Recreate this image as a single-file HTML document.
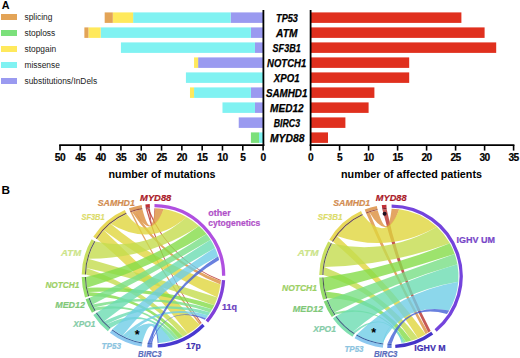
<!DOCTYPE html>
<html><head><meta charset="utf-8"><style>
html,body{margin:0;padding:0;background:#fff;}
svg{display:block;}
text{font-family:"Liberation Sans",sans-serif;}
.tk{font-size:10.2px;letter-spacing:-0.5px;stroke:#000;stroke-width:0.2px;font-weight:bold;text-anchor:middle;fill:#000;}
.gn{font-size:10.6px;font-weight:bold;font-style:italic;fill:#000;stroke:#000;stroke-width:0.25px;}
.axl{font-size:10.75px;font-weight:bold;text-anchor:middle;fill:#000;}
.lg{font-size:8.4px;fill:#222;}
.pl{font-size:12px;font-weight:bold;fill:#000;}
.cl{font-size:9.3px;font-weight:bold;font-style:italic;stroke-width:0.2px;}
.cb{font-size:9.6px;font-weight:bold;stroke-width:0.2px;}
.ast{font-size:12.5px;font-weight:bold;fill:#000;text-anchor:middle;}
</style></head>
<body><svg width="520" height="358" viewBox="0 0 520 358">
<rect x="230.60" y="12.40" width="32.50" height="10.5" fill="#9A9AF0"/>
<rect x="133.12" y="12.40" width="97.49" height="10.5" fill="#80F2F2"/>
<rect x="112.81" y="12.40" width="20.31" height="10.5" fill="#FFE95C"/>
<rect x="104.68" y="12.40" width="8.12" height="10.5" fill="#E3A457"/>
<rect x="250.91" y="27.40" width="12.19" height="10.5" fill="#9A9AF0"/>
<rect x="100.62" y="27.40" width="150.29" height="10.5" fill="#80F2F2"/>
<rect x="88.43" y="27.40" width="12.19" height="10.5" fill="#FFE95C"/>
<rect x="84.37" y="27.40" width="4.06" height="10.5" fill="#E3A457"/>
<rect x="254.98" y="42.40" width="8.12" height="10.5" fill="#9A9AF0"/>
<rect x="120.93" y="42.40" width="134.05" height="10.5" fill="#80F2F2"/>
<rect x="198.11" y="57.40" width="64.99" height="10.5" fill="#9A9AF0"/>
<rect x="194.05" y="57.40" width="4.06" height="10.5" fill="#FFE95C"/>
<rect x="185.92" y="72.40" width="77.18" height="10.5" fill="#80F2F2"/>
<rect x="250.91" y="87.40" width="12.19" height="10.5" fill="#9A9AF0"/>
<rect x="194.05" y="87.40" width="56.87" height="10.5" fill="#80F2F2"/>
<rect x="189.98" y="87.40" width="4.06" height="10.5" fill="#FFE95C"/>
<rect x="254.98" y="102.40" width="8.12" height="10.5" fill="#9A9AF0"/>
<rect x="222.48" y="102.40" width="32.50" height="10.5" fill="#80F2F2"/>
<rect x="238.73" y="117.40" width="24.37" height="10.5" fill="#9A9AF0"/>
<rect x="259.04" y="132.40" width="4.06" height="10.5" fill="#80F2F2"/>
<rect x="250.91" y="132.40" width="8.12" height="10.5" fill="#7BE07B"/>
<rect x="310.60" y="12.40" width="150.80" height="10.5" fill="#E0301E"/>
<rect x="310.60" y="27.40" width="174.00" height="10.5" fill="#E0301E"/>
<rect x="310.60" y="42.40" width="185.60" height="10.5" fill="#E0301E"/>
<rect x="310.60" y="57.40" width="98.60" height="10.5" fill="#E0301E"/>
<rect x="310.60" y="72.40" width="98.60" height="10.5" fill="#E0301E"/>
<rect x="310.60" y="87.40" width="63.80" height="10.5" fill="#E0301E"/>
<rect x="310.60" y="102.40" width="58.00" height="10.5" fill="#E0301E"/>
<rect x="310.60" y="117.40" width="34.80" height="10.5" fill="#E0301E"/>
<rect x="310.60" y="132.40" width="17.40" height="10.5" fill="#E0301E"/>
<line x1="263.40" y1="10" x2="263.40" y2="146.0" stroke="#000" stroke-width="1.8"/>
<line x1="59.20" y1="145.1" x2="264.30" y2="145.1" stroke="#000" stroke-width="1.8"/>
<line x1="263.10" y1="145.1" x2="263.10" y2="150.6" stroke="#000" stroke-width="1.6"/>
<text x="263.10" y="160.6" class="tk">0</text>
<line x1="242.79" y1="145.1" x2="242.79" y2="150.6" stroke="#000" stroke-width="1.6"/>
<text x="242.79" y="160.6" class="tk">5</text>
<line x1="222.48" y1="145.1" x2="222.48" y2="150.6" stroke="#000" stroke-width="1.6"/>
<text x="222.48" y="160.6" class="tk">10</text>
<line x1="202.17" y1="145.1" x2="202.17" y2="150.6" stroke="#000" stroke-width="1.6"/>
<text x="202.17" y="160.6" class="tk">15</text>
<line x1="181.86" y1="145.1" x2="181.86" y2="150.6" stroke="#000" stroke-width="1.6"/>
<text x="181.86" y="160.6" class="tk">20</text>
<line x1="161.55" y1="145.1" x2="161.55" y2="150.6" stroke="#000" stroke-width="1.6"/>
<text x="161.55" y="160.6" class="tk">25</text>
<line x1="141.24" y1="145.1" x2="141.24" y2="150.6" stroke="#000" stroke-width="1.6"/>
<text x="141.24" y="160.6" class="tk">30</text>
<line x1="120.93" y1="145.1" x2="120.93" y2="150.6" stroke="#000" stroke-width="1.6"/>
<text x="120.93" y="160.6" class="tk">35</text>
<line x1="100.62" y1="145.1" x2="100.62" y2="150.6" stroke="#000" stroke-width="1.6"/>
<text x="100.62" y="160.6" class="tk">40</text>
<line x1="80.31" y1="145.1" x2="80.31" y2="150.6" stroke="#000" stroke-width="1.6"/>
<text x="80.31" y="160.6" class="tk">45</text>
<line x1="60.00" y1="145.1" x2="60.00" y2="150.6" stroke="#000" stroke-width="1.6"/>
<text x="60.00" y="160.6" class="tk">50</text>
<line x1="310.60" y1="10" x2="310.60" y2="146.0" stroke="#000" stroke-width="1.8"/>
<line x1="309.70" y1="145.1" x2="514.40" y2="145.1" stroke="#000" stroke-width="1.8"/>
<line x1="310.60" y1="145.1" x2="310.60" y2="150.6" stroke="#000" stroke-width="1.6"/>
<text x="310.60" y="160.6" class="tk">0</text>
<line x1="339.60" y1="145.1" x2="339.60" y2="150.6" stroke="#000" stroke-width="1.6"/>
<text x="339.60" y="160.6" class="tk">5</text>
<line x1="368.60" y1="145.1" x2="368.60" y2="150.6" stroke="#000" stroke-width="1.6"/>
<text x="368.60" y="160.6" class="tk">10</text>
<line x1="397.60" y1="145.1" x2="397.60" y2="150.6" stroke="#000" stroke-width="1.6"/>
<text x="397.60" y="160.6" class="tk">15</text>
<line x1="426.60" y1="145.1" x2="426.60" y2="150.6" stroke="#000" stroke-width="1.6"/>
<text x="426.60" y="160.6" class="tk">20</text>
<line x1="455.60" y1="145.1" x2="455.60" y2="150.6" stroke="#000" stroke-width="1.6"/>
<text x="455.60" y="160.6" class="tk">25</text>
<line x1="484.60" y1="145.1" x2="484.60" y2="150.6" stroke="#000" stroke-width="1.6"/>
<text x="484.60" y="160.6" class="tk">30</text>
<line x1="513.60" y1="145.1" x2="513.60" y2="150.6" stroke="#000" stroke-width="1.6"/>
<text x="513.60" y="160.6" class="tk">35</text>
<text x="276.10" y="22.30" class="gn" textLength="21.80" lengthAdjust="spacingAndGlyphs">TP53</text>
<text x="276.10" y="37.30" class="gn" textLength="21.30" lengthAdjust="spacingAndGlyphs">ATM</text>
<text x="272.60" y="52.30" class="gn" textLength="28.10" lengthAdjust="spacingAndGlyphs">SF3B1</text>
<text x="267.10" y="67.30" class="gn" textLength="39.10" lengthAdjust="spacingAndGlyphs">NOTCH1</text>
<text x="273.80" y="82.30" class="gn" textLength="25.70" lengthAdjust="spacingAndGlyphs">XPO1</text>
<text x="265.90" y="97.30" class="gn" textLength="41.50" lengthAdjust="spacingAndGlyphs">SAMHD1</text>
<text x="270.10" y="112.30" class="gn" textLength="33.60" lengthAdjust="spacingAndGlyphs">MED12</text>
<text x="273.80" y="127.30" class="gn" textLength="26.20" lengthAdjust="spacingAndGlyphs">BIRC3</text>
<text x="270.00" y="142.30" class="gn" textLength="34.50" lengthAdjust="spacingAndGlyphs">MYD88</text>
<text x="162" y="177.5" class="axl">number of mutations</text>
<text x="411.5" y="177.5" class="axl">number of affected patients</text>
<rect x="1" y="14" width="16" height="6" fill="#E3A457"/>
<text x="24.5" y="20" class="lg">splicing</text>
<rect x="1" y="30" width="16" height="6" fill="#7BE07B"/>
<text x="24.5" y="36" class="lg">stoploss</text>
<rect x="1" y="46" width="16" height="6" fill="#FFE95C"/>
<text x="24.5" y="52" class="lg">stopgain</text>
<rect x="1" y="62" width="16" height="6" fill="#80F2F2"/>
<text x="24.5" y="68" class="lg">missense</text>
<rect x="1" y="78" width="16" height="6" fill="#9A9AF0"/>
<text x="24.5" y="84" class="lg">substitutions/InDels</text>
<text x="1.7" y="8.9" class="pl" style="font-size:10.8px">A</text>
<text x="1.6" y="193.9" class="pl" style="font-size:11.8px">B</text>
<g><path d="M201.64,323.11 A67.5,67.5 0 0 1 201.00,323.76 Q163.46,271.02 145.86,208.73 A67.5,67.5 0 0 1 147.17,208.60 Q163.95,270.83 201.64,323.11 Z" fill="#B8302A" fill-opacity="0.8"/><path d="M220.87,279.92 A67.5,67.5 0 0 1 220.80,281.00 Q168.74,260.30 147.17,208.60 A67.5,67.5 0 0 1 148.65,208.47 Q169.13,260.00 220.87,279.92 Z" fill="#B8302A" fill-opacity="0.8"/><path d="M154.44,208.31 A67.5,67.5 0 0 1 155.32,208.32 Q152.74,242.10 148.65,208.47 A67.5,67.5 0 0 1 149.97,208.39 Q152.85,242.07 154.44,208.31 Z" fill="#B8302A" fill-opacity="0.8"/><path d="M201.00,323.76 A67.5,67.5 0 0 1 199.77,324.95 Q159.29,272.23 130.41,212.37 A67.5,67.5 0 0 1 131.85,211.87 Q159.96,271.81 201.00,323.76 Z" fill="#DC8F3D" fill-opacity="0.8"/><path d="M220.80,281.00 A67.5,67.5 0 0 1 220.43,284.57 Q164.82,262.01 131.85,211.87 A67.5,67.5 0 0 1 134.75,210.96 Q165.64,260.89 220.80,281.00 Z" fill="#DC8F3D" fill-opacity="0.8"/><path d="M155.32,208.32 A67.5,67.5 0 0 1 163.76,209.08 Q151.38,242.91 134.75,210.96 A67.5,67.5 0 0 1 142.36,209.23 Q151.17,242.29 155.32,208.32 Z" fill="#DC8F3D" fill-opacity="0.8"/><path d="M199.77,324.95 A67.5,67.5 0 0 1 187.92,333.86 Q147.95,281.13 96.89,239.04 A67.5,67.5 0 0 1 103.71,230.23 Q152.62,276.69 199.77,324.95 Z" fill="#E0D63D" fill-opacity="0.8"/><path d="M220.43,284.57 A67.5,67.5 0 0 1 217.46,297.38 Q157.04,269.80 103.71,230.23 A67.5,67.5 0 0 1 110.54,223.73 Q159.49,264.98 220.43,284.57 Z" fill="#E0D63D" fill-opacity="0.8"/><path d="M163.76,209.08 A67.5,67.5 0 0 1 186.54,216.94 Q151.02,248.07 110.54,223.73 A67.5,67.5 0 0 1 126.58,213.90 Q149.34,243.65 163.76,209.08 Z" fill="#E0D63D" fill-opacity="0.8"/><path d="M187.92,333.86 A67.5,67.5 0 0 1 182.89,336.57 Q143.97,290.70 86.01,274.62 A67.5,67.5 0 0 1 86.46,267.96 Q145.34,288.36 187.92,333.86 Z" fill="#C4DC4E" fill-opacity="0.8"/><path d="M217.46,297.38 A67.5,67.5 0 0 1 214.29,305.14 Q151.94,281.17 86.46,267.96 A67.5,67.5 0 0 1 88.18,258.77 Q153.16,276.94 217.46,297.38 Z" fill="#C4DC4E" fill-opacity="0.8"/><path d="M186.54,216.94 A67.5,67.5 0 0 1 199.01,225.94 Q148.55,259.08 88.18,258.77 A67.5,67.5 0 0 1 95.34,241.54 Q147.22,252.52 186.54,216.94 Z" fill="#C4DC4E" fill-opacity="0.8"/><path d="M182.89,336.57 A67.5,67.5 0 0 1 178.71,338.42 Q143.71,296.53 89.12,296.10 A67.5,67.5 0 0 1 87.96,291.94 Q144.46,295.03 182.89,336.57 Z" fill="#84DC48" fill-opacity="0.8"/><path d="M214.29,305.14 A67.5,67.5 0 0 1 212.06,309.37 Q151.75,288.23 87.96,291.94 A67.5,67.5 0 0 1 87.06,287.71 Q152.09,286.11 214.29,305.14 Z" fill="#84DC48" fill-opacity="0.8"/><path d="M199.01,225.94 A67.5,67.5 0 0 1 206.50,234.00 Q150.14,268.33 87.06,287.71 A67.5,67.5 0 0 1 86.01,276.98 Q148.00,263.63 199.01,225.94 Z" fill="#84DC48" fill-opacity="0.8"/><path d="M178.71,338.42 A67.5,67.5 0 0 1 175.50,339.61 Q144.53,300.45 95.64,310.57 A67.5,67.5 0 0 1 93.97,307.61 Q144.92,299.41 178.71,338.42 Z" fill="#78DF84" fill-opacity="0.8"/><path d="M212.06,309.37 A67.5,67.5 0 0 1 210.19,312.44 Q152.79,292.91 93.97,307.61 A67.5,67.5 0 0 1 92.44,304.58 Q152.88,291.39 212.06,309.37 Z" fill="#78DF84" fill-opacity="0.8"/><path d="M206.50,234.00 A67.5,67.5 0 0 1 210.62,239.84 Q152.52,274.01 92.44,304.58 A67.5,67.5 0 0 1 89.68,297.78 Q150.79,270.84 206.50,234.00 Z" fill="#78DF84" fill-opacity="0.8"/><path d="M175.50,339.61 A67.5,67.5 0 0 1 171.13,340.96 Q147.17,305.11 110.56,327.88 A67.5,67.5 0 0 1 106.60,324.34 Q147.27,303.89 175.50,339.61 Z" fill="#6CDCB2" fill-opacity="0.8"/><path d="M210.19,312.44 A67.5,67.5 0 0 1 208.16,315.40 Q155.44,297.84 106.60,324.34 A67.5,67.5 0 0 1 103.81,321.49 Q155.25,296.38 210.19,312.44 Z" fill="#6CDCB2" fill-opacity="0.8"/><path d="M210.62,239.84 A67.5,67.5 0 0 1 215.05,248.08 Q156.46,280.29 103.81,321.49 A67.5,67.5 0 0 1 96.89,312.56 Q153.63,276.00 210.62,239.84 Z" fill="#6CDCB2" fill-opacity="0.8"/><path d="M171.13,340.96 A67.5,67.5 0 0 1 158.76,343.09 Q152.03,309.27 142.36,342.37 A67.5,67.5 0 0 1 126.58,337.70 Q151.18,307.56 171.13,340.96 Z" fill="#6FCDE6" fill-opacity="0.8"/><path d="M208.16,315.40 A67.5,67.5 0 0 1 205.98,318.26 Q159.89,301.89 126.58,337.70 A67.5,67.5 0 0 1 122.52,335.77 Q159.42,300.69 208.16,315.40 Z" fill="#6FCDE6" fill-opacity="0.8"/><path d="M215.05,248.08 A67.5,67.5 0 0 1 218.13,256.32 Q161.91,285.92 122.52,335.77 A67.5,67.5 0 0 1 112.41,329.35 Q158.61,282.26 215.05,248.08 Z" fill="#6FCDE6" fill-opacity="0.8"/><path d="M158.76,343.09 A67.5,67.5 0 0 1 157.62,343.17 Q154.24,309.52 152.32,343.29 A67.5,67.5 0 0 1 151.54,343.27 Q154.32,309.49 158.76,343.09 Z" fill="#4360D6" fill-opacity="0.8"/><path d="M205.98,318.26 A67.5,67.5 0 0 1 204.83,319.64 Q165.84,303.63 151.54,343.27 A67.5,67.5 0 0 1 150.36,343.23 Q165.83,303.27 205.98,318.26 Z" fill="#4360D6" fill-opacity="0.8"/><path d="M218.13,256.32 A67.5,67.5 0 0 1 219.13,260.04 Q169.12,288.72 150.36,343.23 A67.5,67.5 0 0 1 147.62,343.04 Q168.19,287.74 218.13,256.32 Z" fill="#4360D6" fill-opacity="0.8"/><path d="M154.48,205.66 A70.15,70.15 0 0 1 223.65,275.80" fill="none" stroke="#B050E0" stroke-width="3.3"/><path d="M223.52,280.08 A70.15,70.15 0 0 1 206.84,321.36" fill="none" stroke="#8040D8" stroke-width="3.3"/><path d="M203.53,324.97 A70.15,70.15 0 0 1 157.78,345.82" fill="none" stroke="#4838D0" stroke-width="3.3"/><path d="M152.27,345.99 A70.20,70.20 0 0 1 147.38,345.73" fill="none" stroke="#6482E0" stroke-width="3.2"/><path d="M152.31,343.89 A68.10,68.10 0 0 1 147.56,343.64" fill="none" stroke="#3050B0" stroke-width="1.1"/><path d="M141.91,345.04 A70.20,70.20 0 0 1 110.76,331.49" fill="none" stroke="#8CC8F0" stroke-width="3.2"/><path d="M142.26,342.97 A68.10,68.10 0 0 1 112.04,329.83" fill="none" stroke="#3060A0" stroke-width="1.1"/><path d="M108.85,329.97 A70.20,70.20 0 0 1 94.63,314.03" fill="none" stroke="#80E0B0" stroke-width="3.2"/><path d="M110.18,328.35 A68.10,68.10 0 0 1 96.39,312.89" fill="none" stroke="#3A6A80" stroke-width="1.1"/><path d="M93.33,311.96 A70.20,70.20 0 0 1 87.12,298.65" fill="none" stroke="#80D878" stroke-width="3.2"/><path d="M95.13,310.87 A68.10,68.10 0 0 1 89.11,297.97" fill="none" stroke="#3A6A68" stroke-width="1.1"/><path d="M86.55,296.91 A70.20,70.20 0 0 1 83.31,277.03" fill="none" stroke="#98E068" stroke-width="3.2"/><path d="M88.55,296.28 A68.10,68.10 0 0 1 85.41,276.99" fill="none" stroke="#4A6050" stroke-width="1.1"/><path d="M83.31,274.57 A70.20,70.20 0 0 1 93.01,240.17" fill="none" stroke="#C8E060" stroke-width="3.2"/><path d="M85.41,274.61 A68.10,68.10 0 0 1 94.82,241.24" fill="none" stroke="#5A5858" stroke-width="1.1"/><path d="M94.63,237.57 A70.20,70.20 0 0 1 125.51,211.42" fill="none" stroke="#E8D858" stroke-width="3.2"/><path d="M96.39,238.71 A68.10,68.10 0 0 1 126.35,213.35" fill="none" stroke="#6A4A48" stroke-width="1.1"/><path d="M129.49,209.83 A70.20,70.20 0 0 1 141.91,206.56" fill="none" stroke="#E0A060" stroke-width="3.2"/><path d="M130.21,211.81 A68.10,68.10 0 0 1 142.26,208.63" fill="none" stroke="#A05040" stroke-width="1.1"/><path d="M145.55,206.05 A70.20,70.20 0 0 1 149.83,205.70" fill="none" stroke="#C03038" stroke-width="3.2"/><path d="M145.79,208.14 A68.10,68.10 0 0 1 149.94,207.79" fill="none" stroke="#802030" stroke-width="1.1"/></g>
<g><path d="M430.68,330.91 A67.5,67.5 0 0 1 428.22,332.61 Q398.13,273.64 382.31,209.36 A67.5,67.5 0 0 1 386.63,208.94 Q399.83,273.11 430.68,330.91 Z" fill="#B8302A" fill-opacity="0.8"/><path d="M391.59,208.80 A67.5,67.5 0 0 1 391.60,208.80 Q390.06,242.59 386.63,208.94 A67.5,67.5 0 0 1 386.64,208.94 Q390.06,242.59 391.59,208.80 Z" fill="#B8302A" fill-opacity="0.8"/><path d="M428.22,332.61 A67.5,67.5 0 0 1 425.70,334.20 Q393.49,275.07 366.26,213.50 A67.5,67.5 0 0 1 369.45,212.33 Q394.92,274.38 428.22,332.61 Z" fill="#DC8F3D" fill-opacity="0.8"/><path d="M391.60,208.80 A67.5,67.5 0 0 1 399.20,209.30 Q387.66,243.56 369.45,212.33 A67.5,67.5 0 0 1 377.66,210.13 Q387.81,242.88 391.60,208.80 Z" fill="#DC8F3D" fill-opacity="0.8"/><path d="M425.70,334.20 A67.5,67.5 0 0 1 418.05,338.14 Q383.25,283.15 332.96,241.84 A67.5,67.5 0 0 1 336.86,235.99 Q386.14,280.70 425.70,334.20 Z" fill="#E0D63D" fill-opacity="0.8"/><path d="M399.20,209.30 A67.5,67.5 0 0 1 436.86,226.77 Q388.93,253.84 336.86,235.99 A67.5,67.5 0 0 1 362.79,214.98 Q386.00,244.22 399.20,209.30 Z" fill="#E0D63D" fill-opacity="0.8"/><path d="M418.05,338.14 A67.5,67.5 0 0 1 411.61,340.58 Q379.28,292.07 323.51,275.12 A67.5,67.5 0 0 1 324.16,266.91 Q381.05,289.41 418.05,338.14 Z" fill="#C4DC4E" fill-opacity="0.8"/><path d="M436.86,226.77 A67.5,67.5 0 0 1 449.87,243.28 Q389.01,265.70 324.16,266.91 A67.5,67.5 0 0 1 331.96,243.58 Q387.71,255.74 436.86,226.77 Z" fill="#C4DC4E" fill-opacity="0.8"/><path d="M411.61,340.58 A67.5,67.5 0 0 1 406.08,342.09 Q378.81,298.24 327.18,298.28 A67.5,67.5 0 0 1 325.23,291.48 Q379.71,296.17 411.61,340.58 Z" fill="#84DC48" fill-opacity="0.8"/><path d="M449.87,243.28 A67.5,67.5 0 0 1 454.69,253.95 Q390.48,274.51 325.23,291.48 A67.5,67.5 0 0 1 323.51,277.48 Q388.85,268.34 449.87,243.28 Z" fill="#84DC48" fill-opacity="0.8"/><path d="M406.08,342.09 A67.5,67.5 0 0 1 404.39,342.46 Q380.44,302.40 335.37,314.53 A67.5,67.5 0 0 1 334.07,312.57 Q380.54,301.82 406.08,342.09 Z" fill="#78DF84" fill-opacity="0.8"/><path d="M454.69,253.95 A67.5,67.5 0 0 1 457.40,264.14 Q393.37,282.33 334.07,312.57 A67.5,67.5 0 0 1 327.77,299.94 Q391.12,276.62 454.69,253.95 Z" fill="#78DF84" fill-opacity="0.8"/><path d="M404.39,342.46 A67.5,67.5 0 0 1 402.70,342.78 Q384.86,307.15 354.73,333.23 A67.5,67.5 0 0 1 352.81,331.96 Q384.80,306.75 404.39,342.46 Z" fill="#6CDCB2" fill-opacity="0.8"/><path d="M457.40,264.14 A67.5,67.5 0 0 1 458.29,281.65 Q398.27,291.55 352.81,331.96 A67.5,67.5 0 0 1 336.39,315.98 Q393.95,283.18 457.40,264.14 Z" fill="#6CDCB2" fill-opacity="0.8"/><path d="M402.70,342.78 A67.5,67.5 0 0 1 401.57,342.97 Q391.73,309.73 383.36,343.37 A67.5,67.5 0 0 1 382.32,343.24 Q391.76,309.65 402.70,342.78 Z" fill="#6FCDE6" fill-opacity="0.8"/><path d="M458.29,281.65 A67.5,67.5 0 0 1 449.21,310.48 Q403.38,301.58 382.32,343.24 A67.5,67.5 0 0 1 356.74,334.46 Q399.26,292.18 458.29,281.65 Z" fill="#6FCDE6" fill-opacity="0.8"/><path d="M401.57,342.97 A67.5,67.5 0 0 1 401.56,342.97 Q393.79,309.84 391.59,343.80 A67.5,67.5 0 0 1 391.58,343.80 Q393.79,309.84 401.57,342.97 Z" fill="#4360D6" fill-opacity="0.8"/><path d="M449.21,310.48 A67.5,67.5 0 0 1 446.96,314.05 Q405.13,302.61 391.58,343.80 A67.5,67.5 0 0 1 387.47,343.71 Q404.67,301.70 449.21,310.48 Z" fill="#4360D6" fill-opacity="0.8"/><path d="M391.61,206.15 A70.15,70.15 0 0 1 435.62,330.43" fill="none" stroke="#7444DC" stroke-width="3.3"/><path d="M432.23,333.05 A70.15,70.15 0 0 1 395.28,346.32" fill="none" stroke="#4434C8" stroke-width="3.3"/><path d="M391.61,346.50 A70.20,70.20 0 0 1 387.33,346.40" fill="none" stroke="#6482E0" stroke-width="3.2"/><path d="M391.59,344.40 A68.10,68.10 0 0 1 387.44,344.31" fill="none" stroke="#3050B0" stroke-width="1.1"/><path d="M383.05,346.05 A70.20,70.20 0 0 1 355.37,336.79" fill="none" stroke="#8CC8F0" stroke-width="3.2"/><path d="M383.29,343.96 A68.10,68.10 0 0 1 356.44,334.98" fill="none" stroke="#3060A0" stroke-width="1.1"/><path d="M353.28,335.51 A70.20,70.20 0 0 1 334.21,317.56" fill="none" stroke="#80E0B0" stroke-width="3.2"/><path d="M354.41,333.73 A68.10,68.10 0 0 1 335.91,316.33" fill="none" stroke="#3A6A80" stroke-width="1.1"/><path d="M333.15,316.06 A70.20,70.20 0 0 1 325.25,300.88" fill="none" stroke="#80D878" stroke-width="3.2"/><path d="M334.88,314.87 A68.10,68.10 0 0 1 327.21,300.15" fill="none" stroke="#3A6A68" stroke-width="1.1"/><path d="M324.62,299.15 A70.20,70.20 0 0 1 320.81,277.53" fill="none" stroke="#98E068" stroke-width="3.2"/><path d="M326.61,298.47 A68.10,68.10 0 0 1 322.91,277.49" fill="none" stroke="#4A6050" stroke-width="1.1"/><path d="M320.81,275.07 A70.20,70.20 0 0 1 329.60,242.27" fill="none" stroke="#C8E060" stroke-width="3.2"/><path d="M322.91,275.11 A68.10,68.10 0 0 1 331.44,243.28" fill="none" stroke="#5A5858" stroke-width="1.1"/><path d="M330.64,240.46 A70.20,70.20 0 0 1 361.67,212.52" fill="none" stroke="#E8D858" stroke-width="3.2"/><path d="M332.44,241.53 A68.10,68.10 0 0 1 362.54,214.43" fill="none" stroke="#6A4A48" stroke-width="1.1"/><path d="M365.27,210.98 A70.20,70.20 0 0 1 377.12,207.48" fill="none" stroke="#E0A060" stroke-width="3.2"/><path d="M366.04,212.94 A68.10,68.10 0 0 1 377.54,209.54" fill="none" stroke="#A05040" stroke-width="1.1"/><path d="M381.96,206.68 A70.20,70.20 0 0 1 386.47,206.25" fill="none" stroke="#C03038" stroke-width="3.2"/><path d="M382.23,208.77 A68.10,68.10 0 0 1 386.61,208.34" fill="none" stroke="#802030" stroke-width="1.1"/></g>
<text x="97.70" y="205.70" class="cl" fill="#D28C50" stroke="#D28C50" textLength="37.20" lengthAdjust="spacingAndGlyphs">SAMHD1</text>
<text x="140.10" y="200.80" class="cl" fill="#AA1928" stroke="#AA1928" textLength="31.20" lengthAdjust="spacingAndGlyphs">MYD88</text>
<text x="81.50" y="219.70" class="cl" fill="#DCDC6A" stroke="#DCDC6A" textLength="23.10" lengthAdjust="spacingAndGlyphs">SF3B1</text>
<text x="61.10" y="256.10" class="cl" fill="#CCE48A" stroke="#CCE48A" textLength="20.00" lengthAdjust="spacingAndGlyphs">ATM</text>
<text x="45.40" y="287.70" class="cl" fill="#9CD064" stroke="#9CD064" textLength="33.90" lengthAdjust="spacingAndGlyphs">NOTCH1</text>
<text x="55.20" y="308.10" class="cl" fill="#80C878" stroke="#80C878" textLength="29.80" lengthAdjust="spacingAndGlyphs">MED12</text>
<text x="73.20" y="327.00" class="cl" fill="#84CCA8" stroke="#84CCA8" textLength="22.10" lengthAdjust="spacingAndGlyphs">XPO1</text>
<text x="101.50" y="348.70" class="cl" fill="#8CC4E0" stroke="#8CC4E0" textLength="19.60" lengthAdjust="spacingAndGlyphs">TP53</text>
<text x="138.10" y="356.50" class="cl" fill="#5A6EBE" stroke="#5A6EBE" textLength="23.40" lengthAdjust="spacingAndGlyphs">BIRC3</text>
<text x="208.30" y="215.90" class="cb" fill="#B050C8" stroke="#B050C8" textLength="22.40" lengthAdjust="spacingAndGlyphs">other</text>
<text x="208.30" y="226.20" class="cb" fill="#B050C8" stroke="#B050C8" textLength="52.00" lengthAdjust="spacingAndGlyphs">cytogenetics</text>
<text x="222.00" y="310.20" class="cb" fill="#6A40C0" stroke="#6A40C0" textLength="15.00" lengthAdjust="spacingAndGlyphs">11q</text>
<text x="186.00" y="348.70" class="cb" fill="#4030B0" stroke="#4030B0" textLength="14.80" lengthAdjust="spacingAndGlyphs">17p</text>
<text x="333.30" y="206.00" class="cl" fill="#D28C50" stroke="#D28C50" textLength="36.90" lengthAdjust="spacingAndGlyphs">SAMHD1</text>
<text x="375.80" y="201.00" class="cl" fill="#AA1928" stroke="#AA1928" textLength="30.80" lengthAdjust="spacingAndGlyphs">MYD88</text>
<text x="317.70" y="220.00" class="cl" fill="#DCDC6A" stroke="#DCDC6A" textLength="24.80" lengthAdjust="spacingAndGlyphs">SF3B1</text>
<text x="297.50" y="255.50" class="cl" fill="#CCE48A" stroke="#CCE48A" textLength="21.00" lengthAdjust="spacingAndGlyphs">ATM</text>
<text x="282.00" y="290.90" class="cl" fill="#9CD064" stroke="#9CD064" textLength="34.90" lengthAdjust="spacingAndGlyphs">NOTCH1</text>
<text x="292.80" y="312.30" class="cl" fill="#80C878" stroke="#80C878" textLength="30.20" lengthAdjust="spacingAndGlyphs">MED12</text>
<text x="313.20" y="331.50" class="cl" fill="#84CCA8" stroke="#84CCA8" textLength="22.80" lengthAdjust="spacingAndGlyphs">XPO1</text>
<text x="344.40" y="351.60" class="cl" fill="#8CC4E0" stroke="#8CC4E0" textLength="19.20" lengthAdjust="spacingAndGlyphs">TP53</text>
<text x="373.90" y="356.50" class="cl" fill="#5A6EBE" stroke="#5A6EBE" textLength="23.60" lengthAdjust="spacingAndGlyphs">BIRC3</text>
<text x="456.60" y="243.40" class="cb" fill="#7846C8" stroke="#7846C8" textLength="38.50" lengthAdjust="spacingAndGlyphs">IGHV UM</text>
<text x="414.30" y="351.20" class="cb" fill="#4030B0" stroke="#4030B0" textLength="31.40" lengthAdjust="spacingAndGlyphs">IGHV M</text>
<text x="137.3" y="338.6" class="ast">*</text>
<circle cx="384.6" cy="213.8" r="2" fill="#201020"/>
<text x="373.6" y="336.6" class="ast">*</text>
</svg></body></html>
